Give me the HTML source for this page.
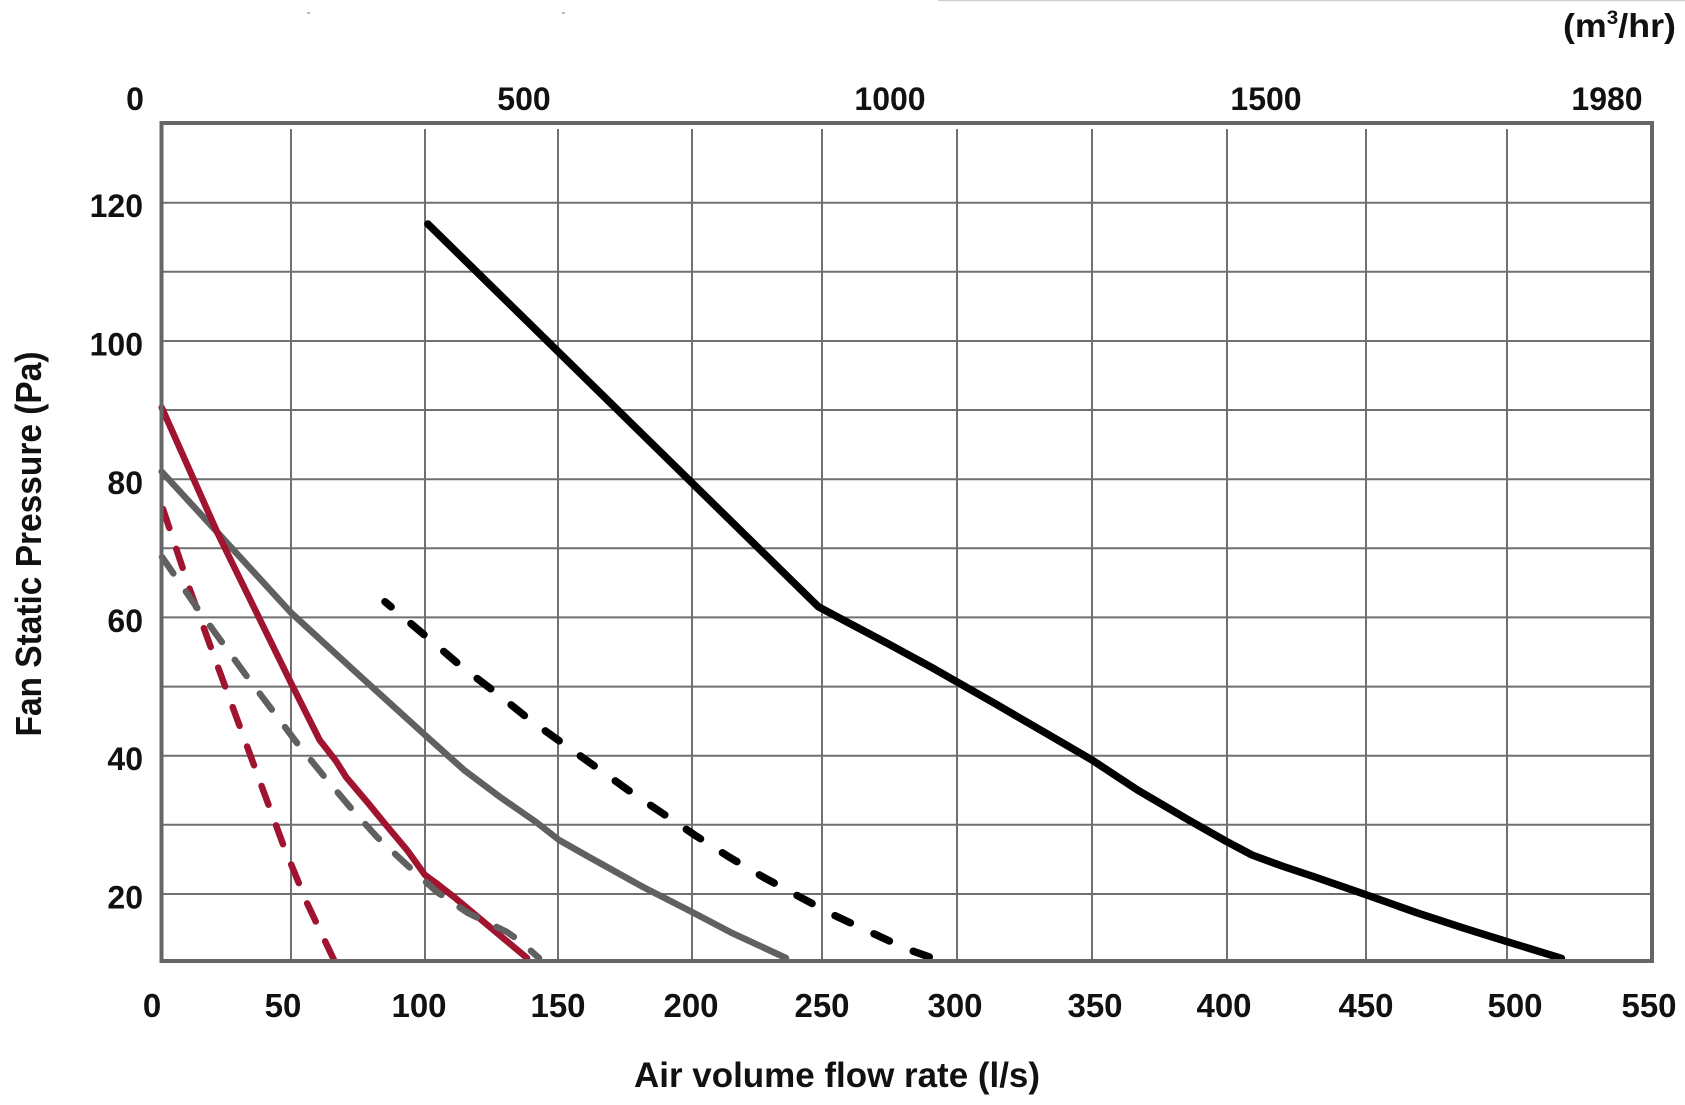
<!DOCTYPE html>
<html>
<head>
<meta charset="utf-8">
<style>
  html, body { margin: 0; padding: 0; background: #ffffff; }
  body { width: 1685px; height: 1105px; overflow: hidden; }
  svg { display: block; }
  text { font-family: "Liberation Sans", "DejaVu Sans", sans-serif; font-weight: bold; fill: #111111; }
</style>
</head>
<body>
<svg width="1685" height="1105" viewBox="0 0 1685 1105" xmlns="http://www.w3.org/2000/svg">
  <rect x="0" y="0" width="1685" height="1105" fill="#ffffff"/>
  <!-- faint top line -->
  <line x1="938" y1="0.5" x2="1685" y2="0.5" stroke="#cfcfcf" stroke-width="1.5"/>
  <line x1="307" y1="13" x2="310" y2="13" stroke="#777" stroke-width="1"/>
  <line x1="562" y1="13" x2="565" y2="13" stroke="#777" stroke-width="1"/>

  <!-- vertical grid -->
  <g stroke="#707070" stroke-width="2">
    <line x1="291" y1="129" x2="291" y2="961"/>
    <line x1="425" y1="129" x2="425" y2="961"/>
    <line x1="558" y1="129" x2="558" y2="961"/>
    <line x1="692" y1="129" x2="692" y2="961"/>
    <line x1="822" y1="129" x2="822" y2="961"/>
    <line x1="957" y1="129" x2="957" y2="961"/>
    <line x1="1092" y1="129" x2="1092" y2="961"/>
    <line x1="1227" y1="129" x2="1227" y2="961"/>
    <line x1="1366" y1="129" x2="1366" y2="961"/>
    <line x1="1507" y1="129" x2="1507" y2="961"/>
  </g>
  <!-- horizontal grid -->
  <g stroke="#707070" stroke-width="2">
    <line x1="161" y1="202.7" x2="1652" y2="202.7"/>
    <line x1="161" y1="271.8" x2="1652" y2="271.8"/>
    <line x1="161" y1="341" x2="1652" y2="341"/>
    <line x1="161" y1="410" x2="1652" y2="410"/>
    <line x1="161" y1="479.2" x2="1652" y2="479.2"/>
    <line x1="161" y1="548.3" x2="1652" y2="548.3"/>
    <line x1="161" y1="617.4" x2="1652" y2="617.4"/>
    <line x1="161" y1="686.6" x2="1652" y2="686.6"/>
    <line x1="161" y1="755.7" x2="1652" y2="755.7"/>
    <line x1="161" y1="824.8" x2="1652" y2="824.8"/>
    <line x1="161" y1="894" x2="1652" y2="894"/>
  </g>

  <!-- curves -->
  <g fill="none" stroke-linecap="round" stroke-linejoin="round">
    <!-- black solid -->
    <path stroke="#000000" stroke-width="7.5"
      d="M427.9,224 L818.3,606.7 L846.4,621.7 L887.3,643.3 L933.2,668.3 L956.7,681.7 L994.5,703.3 L1040.5,730 L1092,760 L1137.5,790 L1188.6,820 L1226.9,841.7 L1252,855 L1282,866 L1316.3,877.5 L1366.8,895 L1418.4,913.3 L1464.4,928.3 L1507.3,941.7 L1561.4,958.3"/>
    <!-- black dashed -->
    <path stroke="#000000" stroke-width="7.5" stroke-dasharray="17 26" stroke-dashoffset="9"
      d="M385,601.7 L428.3,638.3 L461.7,666.7 L496.7,693.3 L530,720 L565,745 L600,770 L630.4,791.7 L662.5,813.3 L694.6,835 L728.6,856.7 L762.5,876.7 L798,896 L833.6,915 L869.4,931.7 L905,948.3 L933,958.3"/>
    <!-- gray solid -->
    <path stroke="#606060" stroke-width="6.5"
      d="M161.7,471.7 L218,533 L291,612.7 L360,676 L425,735 L464,770 L500,797 L536,822 L559,840 L589,857 L643,887 L692,912 L732,933 L786,958"/>
    <!-- red solid -->
    <path stroke="#a11430" stroke-width="6.5"
      d="M161.7,407.5 L218,534 L291,683 L319.6,740 L336,761 L346,777 L368,803 L386,825 L407,850 L425,875 L436,883 L454,897 L527,958"/>
    <!-- red dashed -->
    <path stroke="#a11430" stroke-width="6.5" stroke-dasharray="20 22"
      d="M163,509 L190,590 L218,667 L255,768 L284,847 L307,903 L334,960"/>
    <!-- gray dashed -->
    <path stroke="#606060" stroke-width="6.5" stroke-dasharray="20 22"
      d="M162,557 L200,612 L248,678 L297,743 L323,775 L350,807 L377,837 L407,865 L437,892 L468,913 L507,932 L521,942 L539,958"/>
  </g>

  <!-- plot border -->
  <rect x="161.5" y="123" width="1490.5" height="838" fill="none" stroke="#666666" stroke-width="4"/>

  <!-- top axis labels -->
  <g font-size="32" text-anchor="middle">
    <text x="135" y="110">0</text>
    <text x="524" y="110">500</text>
    <text x="890" y="110">1000</text>
    <text x="1266" y="110">1500</text>
    <text x="1607" y="110">1980</text>
  </g>
  <text x="1563" y="37" font-size="33" textLength="113" lengthAdjust="spacingAndGlyphs">(m<tspan font-size="19" dy="-13">3</tspan><tspan dy="13">/hr)</tspan></text>

  <!-- left axis labels -->
  <g font-size="32" text-anchor="end">
    <text x="143" y="217">120</text>
    <text x="143" y="355.5">100</text>
    <text x="143" y="494">80</text>
    <text x="143" y="632">60</text>
    <text x="143" y="770">40</text>
    <text x="143" y="908.5">20</text>
  </g>

  <!-- bottom axis labels -->
  <g font-size="33" text-anchor="middle">
    <text x="152" y="1017">0</text>
    <text x="283" y="1017">50</text>
    <text x="419" y="1017">100</text>
    <text x="558" y="1017">150</text>
    <text x="691" y="1017">200</text>
    <text x="822" y="1017">250</text>
    <text x="955" y="1017">300</text>
    <text x="1095" y="1017">350</text>
    <text x="1224" y="1017">400</text>
    <text x="1366" y="1017">450</text>
    <text x="1515" y="1017">500</text>
    <text x="1649" y="1017">550</text>
  </g>

  <!-- axis titles -->
  <text x="634" y="1087" font-size="35" textLength="406" lengthAdjust="spacingAndGlyphs">Air volume flow rate (l/s)</text>
  <text transform="translate(41,544) rotate(-90)" x="0" y="0" font-size="36" text-anchor="middle" textLength="385" lengthAdjust="spacingAndGlyphs">Fan Static Pressure (Pa)</text>
</svg>
</body>
</html>
